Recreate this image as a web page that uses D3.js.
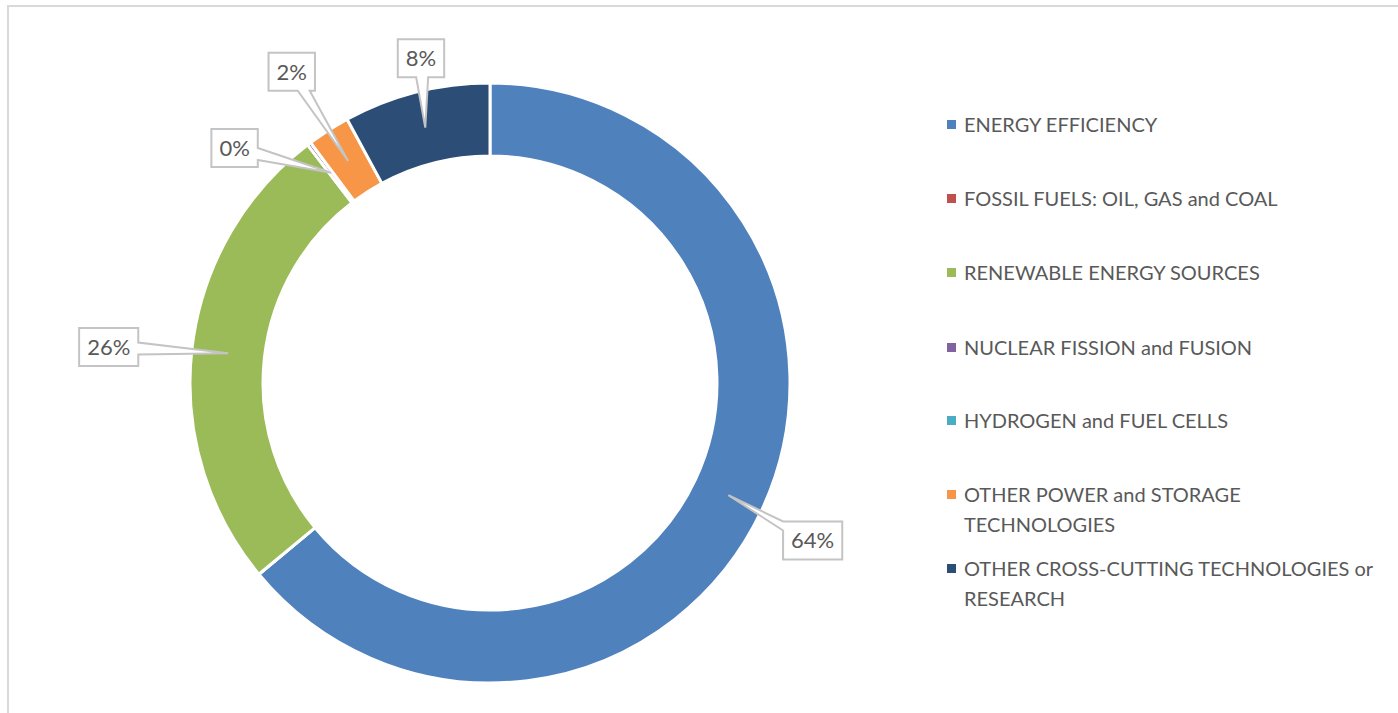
<!DOCTYPE html>
<html>
<head>
<meta charset="utf-8">
<script src="https://cdn.jsdelivr.net/npm/d3@7"></script>
<style>
  body { margin: 0; background: #fff; }
  svg { display: block; font-family: Lato, "Open Sans", sans-serif; }
</style>
</head>
<body>
<svg id="chart" width="1398" height="713"></svg>
<script>
// shares of funding, in percent
var categories = ["ENERGY EFFICIENCY", "FOSSIL FUELS: OIL, GAS and COAL", "RENEWABLE ENERGY SOURCES",
                  "NUCLEAR FISSION and FUSION", "HYDROGEN and FUEL CELLS",
                  "OTHER POWER and STORAGE TECHNOLOGIES", "OTHER CROSS-CUTTING TECHNOLOGIES or RESEARCH"];
var values = [64.0, 0, 25.6, 0.2, 0, 2.3, 7.9];
var colors = ["#4f81bd", "#c0504d", "#9bbb59", "#8064a2", "#4bacc6", "#f79646", "#2c4d75"];
// legend text broken into lines as in the original
var legendLines = [["ENERGY EFFICIENCY"], ["FOSSIL FUELS: OIL, GAS and COAL"], ["RENEWABLE ENERGY SOURCES"],
                   ["NUCLEAR FISSION and FUSION"], ["HYDROGEN and FUEL CELLS"],
                   ["OTHER POWER and STORAGE", "TECHNOLOGIES"], ["OTHER CROSS-CUTTING TECHNOLOGIES or", "RESEARCH"]];

// where the data label boxes were dragged to: [angle deg clockwise from top, distance from centre]
var labelLayout = [[116, 359], null, [275.4, 383], [312.6, 347], null, [327.5, 369], [348, 332]];

var svg = d3.select("#chart");
var cx = 490, cy = 383;
var outerR = 300, innerR = 227;
var grey = "#595959";

// chart frame
svg.append("path")
  .attr("d", "M8,713V6H1398")
  .attr("fill", "none")
  .attr("stroke", "#d9d9d9")
  .attr("stroke-width", 2);

var pie = d3.pie().sort(null).value(function(d) { return d; });
var arcs = pie(values);
var arc = d3.arc().innerRadius(innerR).outerRadius(outerR);

var g = svg.append("g").attr("transform", "translate(" + cx + "," + cy + ")");

g.selectAll("path.slice")
  .data(arcs)
  .enter()
  .append("path")
  .attr("class", "slice")
  .attr("d", arc)
  .attr("fill", function(d, i) { return colors[i]; })
  .attr("stroke", "#fff")
  .attr("stroke-width", 3)
  .attr("stroke-linejoin", "round");

// wedge callout: rectangle with a pointer to (tx, ty)
function callout(x, y, w, h, tx, ty, bw) {
    var mx = x + w / 2, my = y + h / 2;
    var dx = tx - mx, dy = ty - my;
    var sx = dx ? (w / 2) / Math.abs(dx) : Infinity;
    var sy = dy ? (h / 2) / Math.abs(dy) : Infinity;
    var pts, a, b, p;
    if (sx < sy) {
        p = my + dy * sx;
        a = Math.max(y, p - bw / 2); b = Math.min(y + h, p + bw / 2);
        if (dx > 0)
            pts = [[x, y], [x + w, y], [x + w, a], [tx, ty], [x + w, b], [x + w, y + h], [x, y + h]];
        else
            pts = [[x, y], [x + w, y], [x + w, y + h], [x, y + h], [x, b], [tx, ty], [x, a]];
    } else {
        p = mx + dx * sy;
        a = Math.max(x, p - bw / 2); b = Math.min(x + w, p + bw / 2);
        if (dy > 0)
            pts = [[x, y], [x + w, y], [x + w, y + h], [b, y + h], [tx, ty], [a, y + h], [x, y + h]];
        else
            pts = [[x, y], [a, y], [tx, ty], [b, y], [x + w, y], [x + w, y + h], [x, y + h]];
    }
    return "M" + pts.join("L") + "Z";
}

var mid = d3.arc().innerRadius((innerR + outerR) / 2).outerRadius((innerR + outerR) / 2);
var fmt = d3.format(".0%");

arcs.forEach(function(d, i) {
    var lay = labelLayout[i];
    if (!lay || values[i] <= 0) return;
    var ang = lay[0] * Math.PI / 180;
    var bx = Math.sin(ang) * lay[1], by = -Math.cos(ang) * lay[1];
    var tip = mid.centroid(d);
    var lab = g.append("g");
    var txt = lab.append("text")
      .attr("x", bx)
      .attr("y", by)
      .attr("dy", "0.36em")
      .attr("text-anchor", "middle")
      .attr("fill", grey)
      .style("font-size", "22px")
      .text(fmt(values[i] / 100));
    var tw = txt.node().getComputedTextLength();
    var w = tw + 16, h = 38;
    lab.insert("path", "text")
      .attr("d", callout(bx - w / 2, by - h / 2, w, h, tip[0], tip[1], 12))
      .attr("fill", "#fff")
      .attr("stroke", "#c4c4c4")
      .attr("stroke-width", 2)
      .attr("stroke-linejoin", "miter");
});

// legend
var legend = svg.append("g").attr("transform", "translate(947,0)");
var rowY = [132, 206, 280, 355, 428, 502, 576];
legendLines.forEach(function(lines, i) {
    var row = legend.append("g").attr("transform", "translate(0," + rowY[i] + ")");
    row.append("rect")
      .attr("x", 0)
      .attr("y", -12)
      .attr("width", 9)
      .attr("height", 9)
      .attr("fill", colors[i]);
    row.append("text")
      .attr("x", 17)
      .attr("fill", grey)
      .style("font-size", "20px")
      .selectAll("tspan")
      .data(lines)
      .enter()
      .append("tspan")
      .attr("x", 17)
      .attr("dy", function(d, j) { return j ? 30 : 0; })
      .text(function(d) { return d; });
});
</script>
</body>
</html>
